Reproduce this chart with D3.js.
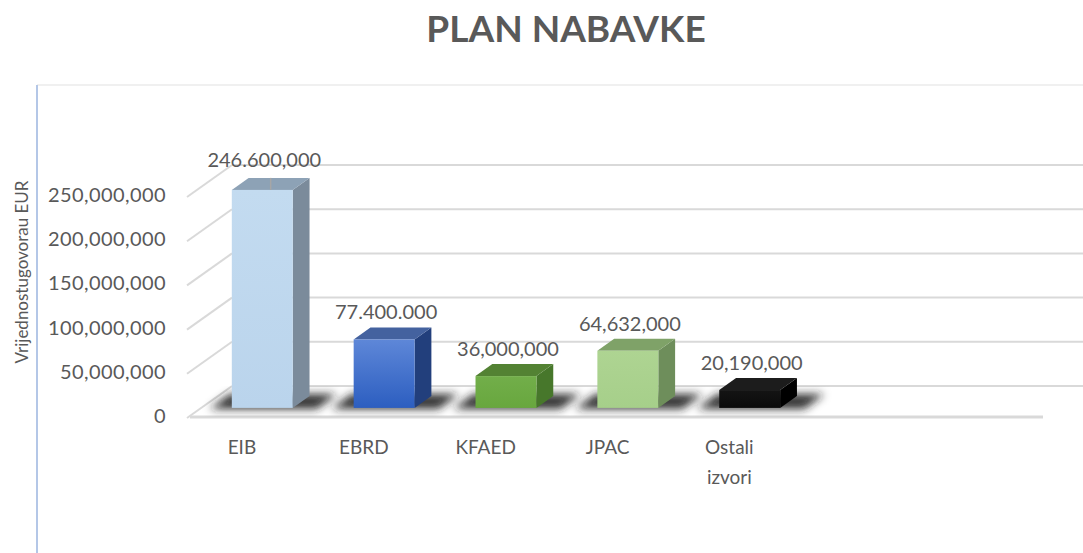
<!DOCTYPE html>
<html>
<head>
<meta charset="utf-8">
<script src="https://cdn.jsdelivr.net/npm/d3@7"></script>
<style>
  body { margin: 0; background: #fff; }
  text { font-family: Lato, "Open Sans", sans-serif; fill: #595959; }
</style>
</head>
<body>
<div id="chart"></div>
<script>
// data
const categories = ["EIB", "EBRD", "KFAED", "JPAC", "Ostali izvori"]
const values = [246600000, 77400000, 36000000, 64632000, 20190000]
const valueLabels = ["246.600,000", "77.400.000", "36,000,000", "64,632,000", "20,190,000"]
const tickValues = [0, 50000000, 100000000, 150000000, 200000000, 250000000]

// face colours per bar: front top, front bottom, side, top
const colors = [
    {front: ["#C3DBF0", "#BAD4EC"], side: "#7B8B9B", top: "#8DA2B6"},
    {front: ["#5E87D8", "#2C5EC0"], side: "#223F7C", top: "#44629F"},
    {front: ["#72AE4A", "#68A73E"], side: "#47772B", top: "#538233"},
    {front: ["#AED492", "#A6CF8A"], side: "#6E8E5B", top: "#7FA268"},
    {front: ["#141414", "#0A0A0A"], side: "#000000", top: "#1C1C1C"}
]

const W = 1083, H = 553
const svg = d3.select("#chart").append("svg")
    .attr("width", W).attr("height", H)

const defs = svg.append("defs")
defs.append("filter").attr("id", "blur")
    .attr("x", "-50%").attr("y", "-50%").attr("width", "200%").attr("height", "200%")
    .append("feGaussianBlur").attr("stdDeviation", 4)
colors.forEach((c, i) => {
    const g = defs.append("linearGradient").attr("id", "grad" + i)
        .attr("x1", 0).attr("y1", 0).attr("x2", 0).attr("y2", 1)
    g.append("stop").attr("offset", "0%").attr("stop-color", c.front[0])
    g.append("stop").attr("offset", "100%").attr("stop-color", c.front[1])
})

// front plane geometry and depth vector
const x0 = 190, x1 = 1043, y0 = 416
const depth = {dx: 42, dy: -30}
const slots = 7
const slotW = (x1 - x0) / slots

const x = d3.scaleBand()
    .domain(categories)
    .range([x0, x0 + slotW * categories.length])
const y = d3.scaleLinear()
    .domain([0, 250000000])
    .range([y0, y0 - 221])
const h = v => y0 - y(v)

// chart area border
svg.append("line").attr("x1", 37).attr("x2", W).attr("y1", 85).attr("y2", 85)
    .style("stroke", "#F0F0F0").style("stroke-width", 2)
svg.append("line").attr("x1", 37).attr("x2", 37).attr("y1", 85).attr("y2", H)
    .style("stroke", "#B4C7E7").style("stroke-width", 2)

// back wall gridlines + side wall diagonals
const grid = svg.append("g")
tickValues.forEach(v => {
    grid.append("line")
        .attr("x1", x0 + depth.dx).attr("x2", W)
        .attr("y1", y(v) + depth.dy).attr("y2", y(v) + depth.dy)
        .style("stroke", "#D9D9D9").style("stroke-width", 2)
    grid.append("line")
        .attr("x1", x0 - 3).attr("y1", y(v) + 2)
        .attr("x2", x0 + depth.dx).attr("y2", y(v) + depth.dy)
        .style("stroke", "#D9D9D9").style("stroke-width", 2)
})
// floor front edge
grid.append("line")
    .attr("x1", x0).attr("x2", x1).attr("y1", y0 + 1).attr("y2", y0 + 1)
    .style("stroke", "#D9D9D9").style("stroke-width", 3)

// bar depth placement
const f0 = 0.27, f1 = 0.67
const barW = slotW * 0.5
const bars = categories.map((c, i) => {
    const cx = x(c) + x.bandwidth() / 2
    const left = cx - barW / 2 + depth.dx * f0
    const bottom = y0 + depth.dy * f0
    return {c, i, v: values[i], left, right: left + barW, bottom, top: bottom - h(values[i])}
})
const ddx = depth.dx * (f1 - f0), ddy = depth.dy * (f1 - f0)

// soft shadows on the floor
svg.append("g").attr("filter", "url(#blur)")
    .selectAll("path").data(bars).join("path")
    .attr("d", d => {
        const l = d.left - 22, r = d.right + 24, b = d.bottom + 1
        return `M${l},${b} L${r},${b} L${r + 20},${b - 15} L${l + 20},${b - 15}Z`
    })
    .style("fill", "#1e1e1e").style("opacity", 0.9)

const barG = svg.append("g").selectAll("g").data(bars).join("g")
// side face
barG.append("path")
    .attr("d", d => `M${d.right},${d.bottom} L${d.right + ddx},${d.bottom + ddy} L${d.right + ddx},${d.top + ddy} L${d.right},${d.top}Z`)
    .style("fill", d => colors[d.i].side)
// top face
barG.append("path")
    .attr("d", d => `M${d.left},${d.top} L${d.right},${d.top} L${d.right + ddx},${d.top + ddy} L${d.left + ddx},${d.top + ddy}Z`)
    .style("fill", d => colors[d.i].top)
// front face
barG.append("rect")
    .attr("x", d => d.left).attr("y", d => d.top)
    .attr("width", barW).attr("height", d => d.bottom - d.top)
    .style("fill", d => `url(#grad${d.i})`)

// value labels
barG.append("text")
    .attr("x", d => (d.left + d.right) / 2 + 2)
    .attr("y", d => d.top - (d.i === 0 ? 30 : 27))
    .attr("dy", "0.35em")
    .attr("text-anchor", "middle")
    .style("font-size", "20px")
    .text(d => valueLabels[d.i])
// leader line for the first label
barG.filter(d => d.i === 0).append("line")
    .attr("x1", d => (d.left + d.right) / 2 + ddx / 2).attr("x2", d => (d.left + d.right) / 2 + ddx / 2)
    .attr("y1", d => d.top + ddy).attr("y2", d => d.top)
    .style("stroke", "#A6A6A6").style("stroke-width", 1.5)

// y axis tick labels
svg.append("g")
    .attr("transform", `translate(${x0 - 14},0)`)
    .call(d3.axisLeft(y).tickValues(tickValues).tickFormat(d3.format(",")).tickSize(0).tickPadding(10))
    .call(g => g.select(".domain").remove())
    .selectAll("text")
    .style("font-size", "20px")
    .style("font-family", "Lato, sans-serif")
    .style("fill", "#595959")
    .style("letter-spacing", "0.4px")

// category labels
const catG = svg.append("g").selectAll("text").data(categories).join("text")
    .attr("text-anchor", "middle")
    .attr("x", c => x(c) + x.bandwidth() / 2 - 9)
    .attr("y", 454)
    .style("font-size", "19px")
catG.selectAll("tspan").data(c => c.split(" ")).join("tspan")
    .attr("x", function () { return d3.select(this.parentNode).attr("x") })
    .attr("dy", (d, i) => i === 0 ? 0 : 30)
    .text(d => d)

// axis title
svg.append("text")
    .attr("transform", "translate(28,272) rotate(-90)")
    .attr("text-anchor", "middle")
    .style("font-size", "17px")
    .text("Vrijednostugovorau  EUR")

// chart title
svg.append("text")
    .attr("x", 566).attr("y", 42)
    .attr("text-anchor", "middle")
    .style("font-size", "37px")
    .style("font-weight", "bold")
    .text("PLAN NABAVKE")
</script>
</body>
</html>
